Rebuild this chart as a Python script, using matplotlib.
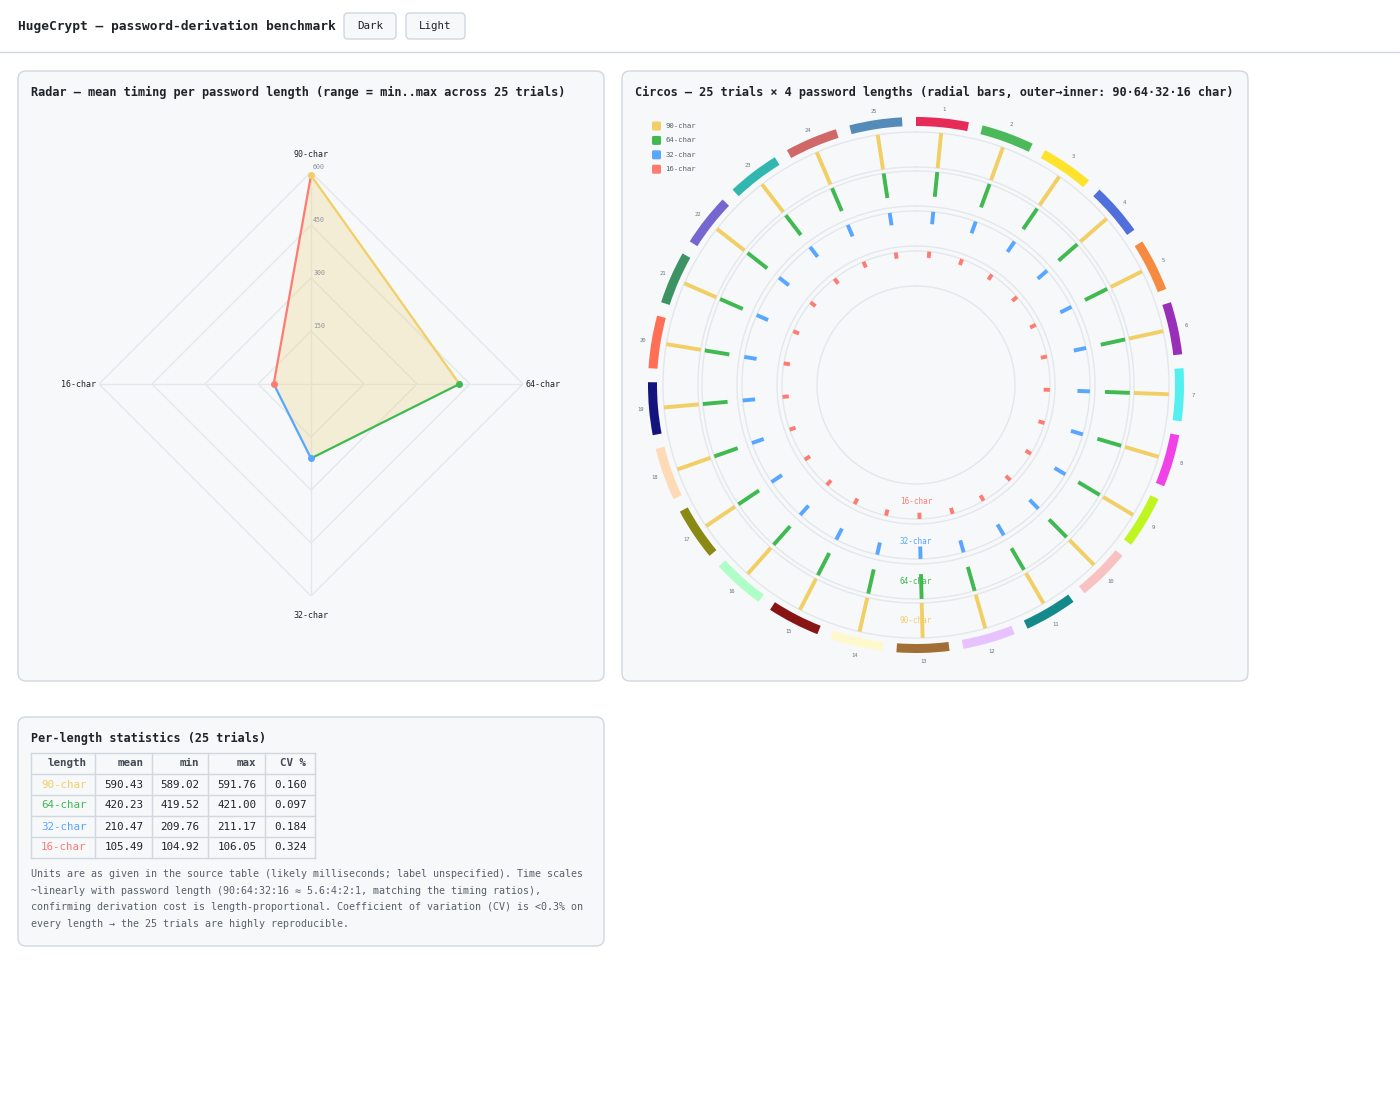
import numpy as np
import matplotlib
matplotlib.use('Agg')
import matplotlib.pyplot as plt
from matplotlib.patches import FancyBboxPatch

plt.rcParams['font.family'] = ['DejaVu Sans Mono', 'DejaVu Sans']

W, H = 1400, 1100

# ---- data -------------------------------------------------------------
lengths = ['90-char', '64-char', '32-char', '16-char']
length_colors = ['#f2cf65', '#3fb950', '#58a6ff', '#ff7b72']
mean_ms = [590.43, 420.23, 210.47, 105.49]
min_ms = [589.02, 419.52, 209.76, 104.92]
max_ms = [591.76, 421.00, 211.17, 106.05]
cv_pct = [0.160, 0.097, 0.184, 0.324]

# per-trial timings (spread is far below what the chart can resolve)
trials_90 = [590.4, 590.1, 590.9, 589.8, 590.6, 591.2, 590.3, 589.5, 590.7, 590.0,
             591.76, 590.5, 590.2, 589.02, 590.8, 590.4, 591.0, 589.9, 590.6, 590.3,
             590.1, 590.9, 590.5, 589.7, 590.6]
trials_64 = [420.2, 420.0, 420.5, 419.9, 420.3, 420.7, 420.1, 419.8, 420.4, 420.2,
             421.00, 420.3, 420.1, 419.52, 420.5, 420.2, 420.6, 419.9, 420.3, 420.2,
             420.0, 420.5, 420.3, 419.8, 420.4]
trials_32 = [210.5, 210.2, 210.9, 210.0, 210.6, 211.0, 210.4, 209.9, 210.7, 210.3,
             211.17, 210.5, 210.2, 209.76, 210.8, 210.4, 210.9, 210.1, 210.6, 210.4,
             210.2, 210.8, 210.5, 210.0, 210.6]
trials_16 = [105.5, 105.2, 105.8, 105.1, 105.6, 105.9, 105.4, 105.0, 105.7, 105.3,
             106.05, 105.5, 105.2, 104.92, 105.8, 105.4, 105.9, 105.1, 105.6, 105.5,
             105.3, 105.8, 105.5, 105.1, 105.6]
trial_series = [trials_90, trials_64, trials_32, trials_16]
trial_ids = list(range(1, 26))
trial_colors = ['#e6194b', '#3cb44b', '#ffe119', '#4363d8', '#f58231', '#911eb4',
                '#46f0f0', '#f032e6', '#bcf60c', '#fabebe', '#008080', '#e6beff',
                '#9a6324', '#fffac8', '#800000', '#aaffc3', '#808000', '#ffd8b1',
                '#000075', '#ff6347', '#2e8b57', '#6a5acd', '#20b2aa', '#cd5c5c',
                '#4682b4']

radar_ticks = [150, 300, 450, 600]

notes = [
    "Units are as given in the source table (likely milliseconds; label unspecified). Time scales",
    "~linearly with password length (90:64:32:16 \u2248 5.6:4:2:1, matching the timing ratios),",
    "confirming derivation cost is length-proportional. Coefficient of variation (CV) is <0.3% on",
    "every length \u2192 the 25 trials are highly reproducible.",
]

TEXT = '#1f2328'
MUTED = '#57606a'
BORDER = '#d0d7de'
PANEL = '#f6f8fa'
GRID = '#e4e7eb'

fig = plt.figure(figsize=(14, 11), dpi=100)
fig.patch.set_facecolor('white')
bg = fig.add_axes([0, 0, 1, 1])
bg.set_xlim(0, W)
bg.set_ylim(H, 0)
bg.axis('off')


def px_axes(x, y, w, h, **kw):
    return fig.add_axes([x / W, 1 - (y + h) / H, w / W, h / H], **kw)


def box(x0, y0, x1, y1, r=8):
    bg.add_patch(FancyBboxPatch((x0, y0), x1 - x0, y1 - y0,
                                boxstyle=f'round,pad=0,rounding_size={r}',
                                fc=PANEL, ec=BORDER, lw=1))


# ---- header -----------------------------------------------------------
bg.text(18, 26, 'HugeCrypt \u2014 password-derivation benchmark', fontsize=9.3,
        fontweight='bold', va='center', color=TEXT)
box(344, 13, 396, 39, r=4)
bg.text(370, 26, 'Dark', fontsize=7.8, ha='center', va='center', color=TEXT)
box(406, 13, 465, 39, r=4)
bg.text(435.5, 26, 'Light', fontsize=7.8, ha='center', va='center', color=TEXT)
bg.plot([0, W], [52, 52], color=BORDER, lw=1)

# ---- panels -----------------------------------------------------------
box(18, 71, 604, 681)
box(622, 71, 1248, 681)
box(18, 717, 604, 946)
bg.text(31, 92, 'Radar \u2014 mean timing per password length (range = min..max across 25 trials)',
        fontsize=8.6, fontweight='bold', va='center', color=TEXT)
bg.text(635, 92, 'Circos \u2014 25 trials \u00d7 4 password lengths (radial bars, '
        'outer\u2192inner: 90\u00b764\u00b732\u00b716 char)',
        fontsize=8.6, fontweight='bold', va='center', color=TEXT)
bg.text(31, 738, 'Per-length statistics (25 trials)', fontsize=8.5,
        fontweight='bold', va='center', color=TEXT)

# ---- radar ------------------------------------------------------------
rax = px_axes(311 - 212, 384 - 212, 424, 424, projection='polar')
rax.set_facecolor('none')
rax.set_theta_zero_location('N')
rax.set_theta_direction(-1)
rax.set_ylim(0, 600)
rax.grid(False)
rax.spines['polar'].set_visible(False)
rax.set_xticks([])
rax.set_yticks([])

angles = np.deg2rad([0, 90, 180, 270])
ring_t = np.append(angles, angles[0])
for lv in radar_ticks:
    rax.plot(ring_t, [lv] * 5, color=GRID, lw=1, zorder=1)
    rax.annotate(str(lv), (0, lv), xytext=(1.5, 1.5), textcoords='offset points',
                 fontsize=4.8, color='#8c959f', ha='left', va='bottom')
for a in angles:
    rax.plot([a, a], [0, radar_ticks[-1]], color=GRID, lw=1, zorder=1)

rax.fill(ring_t, mean_ms + [mean_ms[0]], color='#f2cf65', alpha=0.2, lw=0, zorder=2)
rax.fill(ring_t, max_ms + [max_ms[0]], color='#f2cf65', alpha=0.05, lw=0, zorder=2)
for i in range(4):
    j = (i + 1) % 4
    rax.plot([angles[i], angles[j]], [mean_ms[i], mean_ms[j]],
             color=length_colors[i], lw=1.6, zorder=3)
for i in range(4):
    rax.plot(angles[i], mean_ms[i], 'o', ms=4, color=length_colors[i], zorder=4)

label_pos = [(0, 650, 'center', 'center'), (np.pi / 2, 608, 'left', 'center'),
             (np.pi, 655, 'center', 'center'), (3 * np.pi / 2, 608, 'right', 'center')]
for name, (a, r, ha, va) in zip(lengths, label_pos):
    rax.text(a, r, name, fontsize=6, ha=ha, va=va, color=TEXT)

# ---- circos -----------------------------------------------------------
cax = px_axes(916 - 285, 385 - 285, 570, 570, projection='polar')
cax.set_facecolor('none')
cax.set_theta_zero_location('N')
cax.set_theta_direction(-1)
cax.set_ylim(0, 285)
cax.grid(False)
cax.spines['polar'].set_visible(False)
cax.set_xticks([])
cax.set_yticks([])

step = 360 / len(trial_ids)
span = step - 3.0
mids = np.deg2rad(np.arange(len(trial_ids)) * step + span / 2)
cax.bar(mids, 9, width=np.deg2rad(span), bottom=259, color=trial_colors,
        alpha=0.92, lw=0, zorder=3)
for t, k in zip(mids, trial_ids):
    cax.text(t, 277, str(k), fontsize=4, color='#6e7781', ha='center', va='center')

track_outer = [253, 214, 174, 134]
track_h = 35
circ = np.linspace(0, 2 * np.pi, 721)
vmax = max(max(s) for s in trial_series)
for outer, series, color, name in zip(track_outer, trial_series, length_colors, lengths):
    cax.plot(circ, np.full_like(circ, outer), color=GRID, lw=1, zorder=1)
    cax.plot(circ, np.full_like(circ, outer - track_h), color=GRID, lw=1, zorder=1)
    vals = np.array(series)
    cax.vlines(mids, outer - vals / vmax * track_h, outer, colors=color, lw=2.8, zorder=2)
    cax.text(np.pi, outer - track_h / 2, name, fontsize=5.5, color=color,
             ha='center', va='center', zorder=5)

# legend
for i, (name, color) in enumerate(zip(lengths, length_colors)):
    yy = 126 + i * 14.4
    bg.add_patch(FancyBboxPatch((652, yy - 4.5), 9, 9,
                                boxstyle='round,pad=0,rounding_size=1.5',
                                fc=color, ec='none'))
    bg.text(665, yy, name, fontsize=5.2, color=MUTED, va='center')

# ---- table ------------------------------------------------------------
col_x = [31, 95, 152, 208, 265, 315]
row_y = [753, 774, 795, 816, 837, 858]
for x in col_x:
    bg.plot([x, x], [row_y[0], row_y[-1]], color=BORDER, lw=1)
for y in row_y:
    bg.plot([col_x[0], col_x[-1]], [y, y], color=BORDER, lw=1)

headers = ['length', 'mean', 'min', 'max', 'CV %']
for c, h in enumerate(headers):
    bg.text(col_x[c + 1] - 8.5, (row_y[0] + row_y[1]) / 2, h, fontsize=7.8,
            fontweight='bold', ha='right', va='center', color='#424a53')
for r in range(len(lengths)):
    yc = (row_y[r + 1] + row_y[r + 2]) / 2
    cells = [lengths[r], f'{mean_ms[r]:.2f}', f'{min_ms[r]:.2f}',
             f'{max_ms[r]:.2f}', f'{cv_pct[r]:.3f}']
    for c, s in enumerate(cells):
        bg.text(col_x[c + 1] - 8.5, yc, s, fontsize=7.8, ha='right', va='center',
                color=length_colors[r] if c == 0 else TEXT)

for i, line in enumerate(notes):
    bg.text(31, 874 + i * 16.7, line, fontsize=7.2, color=MUTED, va='center')

fig.savefig('out.png', dpi=100, facecolor='white')
